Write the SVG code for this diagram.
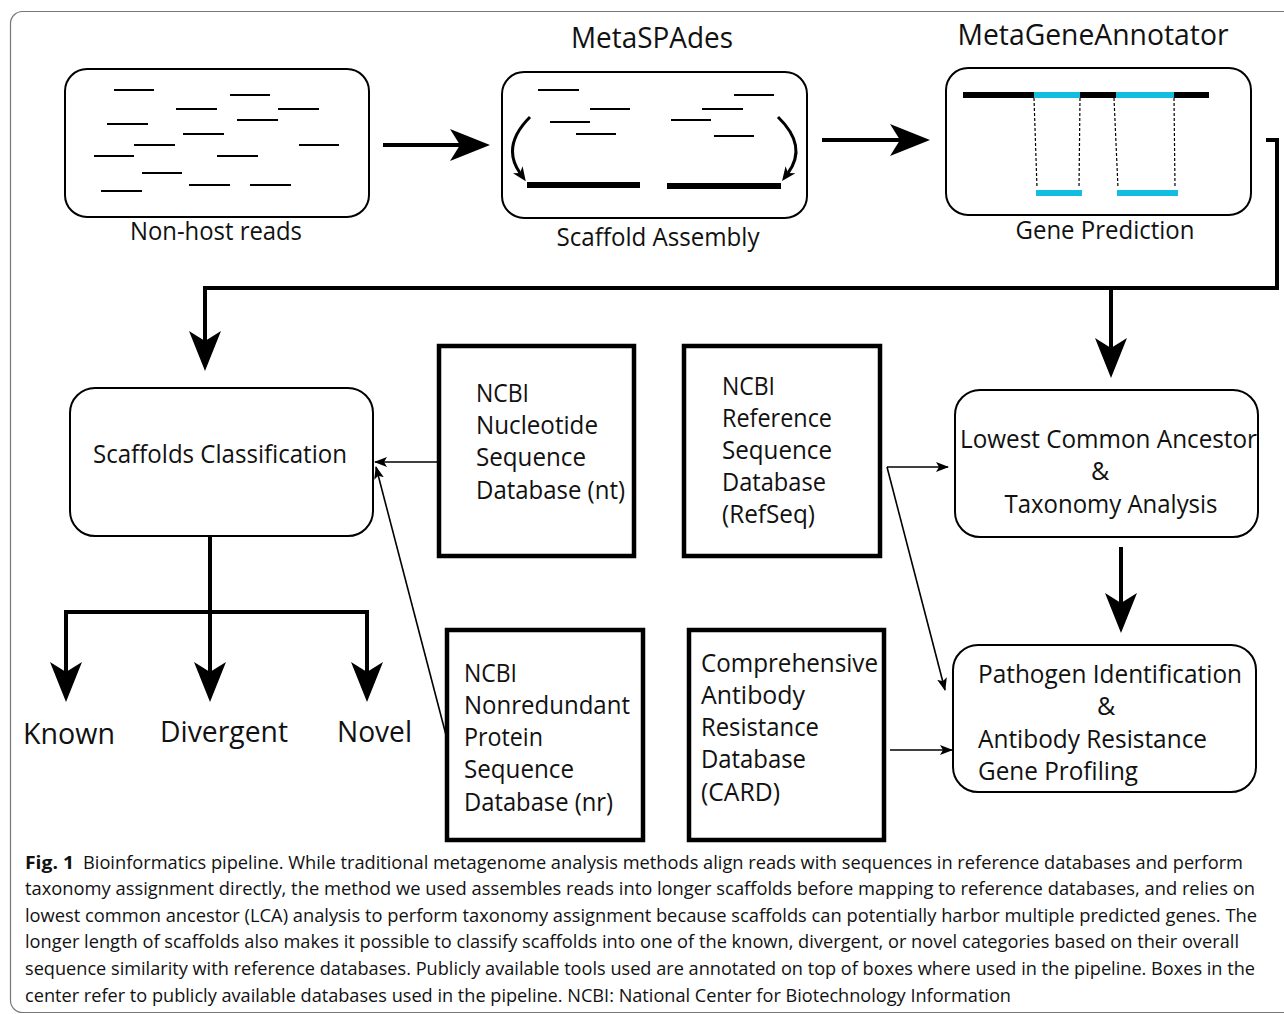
<svg xmlns="http://www.w3.org/2000/svg" width="1284" height="1014" viewBox="0 0 1284 1014">
<style>
text{font-family:"Open Sans","Liberation Sans",sans-serif;fill:#111}
.lbl{font-size:25px}
.big{font-size:29px}
.db{font-size:25px}
.cat{font-size:29px}
.cap{font-size:17.5px}
.capb{font-size:18px;font-weight:bold}
.rbox{fill:#fff;stroke:#000;stroke-width:2}
.dbox{fill:#fff;stroke:#000;stroke-width:4.5}
.read{stroke:#000;stroke-width:1.8}
.bar{stroke:#000;stroke-width:6}
.cy{stroke:#13BDE0;stroke-width:6}
.dash{stroke:#000;stroke-width:1.2;stroke-dasharray:3 2;fill:none}
.thick{stroke:#000;stroke-width:4;fill:none;stroke-linejoin:miter}
.thin{stroke:#000;stroke-width:1.6;fill:none}
.curve{stroke:#000;stroke-width:3;fill:none}
</style>
<defs>
<marker id="ah" markerUnits="userSpaceOnUse" viewBox="0 0 40 32" markerWidth="40" markerHeight="32" refX="12" refY="16" orient="auto"><path d="M0,0 L40,16 L0,32 L10,16 Z" fill="#000"/></marker>
<marker id="ta" markerUnits="userSpaceOnUse" viewBox="0 0 13 10" markerWidth="13" markerHeight="10" refX="12" refY="5" orient="auto"><path d="M0,0 L13,5 L0,10 L3,5 Z" fill="#000"/></marker>
<marker id="ca" markerUnits="userSpaceOnUse" viewBox="0 0 14 12" markerWidth="14" markerHeight="12" refX="4" refY="6" orient="auto"><path d="M0,0 L14,6 L0,12 L4,6 Z" fill="#000"/></marker>
</defs>
<rect x="0" y="0" width="1284" height="1014" fill="#fff"/>
<rect x="10.5" y="11.5" width="1300" height="1001" rx="12" fill="none" stroke="#777" stroke-width="1.2"/>

<g id="nonhost">
<rect class="rbox" x="65" y="69" width="304" height="148" rx="22"/>
<g class="read">
<line x1="114" y1="90" x2="154" y2="90"/>
<line x1="230" y1="95" x2="270" y2="95"/>
<line x1="176" y1="109" x2="217" y2="109"/>
<line x1="278" y1="109" x2="319" y2="109"/>
<line x1="107" y1="124" x2="148" y2="124"/>
<line x1="237" y1="120" x2="278" y2="120"/>
<line x1="183" y1="134" x2="224" y2="134"/>
<line x1="134" y1="145" x2="175" y2="145"/>
<line x1="299" y1="145" x2="339" y2="145"/>
<line x1="94" y1="156" x2="134" y2="156"/>
<line x1="217" y1="156" x2="258" y2="156"/>
<line x1="142" y1="173" x2="182" y2="173"/>
<line x1="101" y1="191" x2="142" y2="191"/>
<line x1="189" y1="185" x2="230" y2="185"/>
<line x1="250" y1="185" x2="291" y2="185"/>
</g>
<text class="lbl" x="216" y="240" text-anchor="middle" textLength="172" lengthAdjust="spacingAndGlyphs">Non-host reads</text>
</g>

<g id="assembly">
<text class="big" x="652" y="48" text-anchor="middle" textLength="162" lengthAdjust="spacingAndGlyphs">MetaSPAdes</text>
<rect class="rbox" x="502" y="72" width="305" height="146" rx="22"/>
<g class="read">
<line x1="538" y1="90" x2="579" y2="90"/>
<line x1="590" y1="109" x2="630" y2="109"/>
<line x1="550" y1="122" x2="590" y2="122"/>
<line x1="576" y1="134" x2="616" y2="134"/>
<line x1="734" y1="95" x2="774" y2="95"/>
<line x1="702" y1="109" x2="743" y2="109"/>
<line x1="671" y1="120" x2="711" y2="120"/>
<line x1="714" y1="136" x2="754" y2="136"/>
</g>
<line class="bar" x1="527" y1="185" x2="640" y2="185"/>
<line class="bar" x1="667" y1="186" x2="781" y2="186"/>
<path class="curve" d="M530,117 Q501,146 520,173" marker-end="url(#ca)"/>
<path class="curve" d="M778,117 Q808,146 788,173" marker-end="url(#ca)"/>
<text class="lbl" x="658" y="246" text-anchor="middle" textLength="203" lengthAdjust="spacingAndGlyphs">Scaffold Assembly</text>
</g>

<g id="geneprediction">
<text class="big" x="1093" y="45" text-anchor="middle" textLength="271" lengthAdjust="spacingAndGlyphs">MetaGeneAnnotator</text>
<rect class="rbox" x="946" y="68" width="305" height="147" rx="22"/>
<line class="bar" x1="963" y1="95" x2="1209" y2="95"/>
<line class="cy" x1="1034" y1="95" x2="1080" y2="95"/>
<line class="cy" x1="1116" y1="95" x2="1174" y2="95"/>
<line class="dash" x1="1034" y1="98" x2="1037" y2="188"/>
<line class="dash" x1="1080" y1="98" x2="1079" y2="188"/>
<line class="dash" x1="1114" y1="98" x2="1118" y2="188"/>
<line class="dash" x1="1174" y1="98" x2="1175" y2="188"/>
<line class="cy" x1="1036" y1="193" x2="1082" y2="193"/>
<line class="cy" x1="1117" y1="193" x2="1178" y2="193"/>
<text class="lbl" x="1105" y="239" text-anchor="middle" textLength="179" lengthAdjust="spacingAndGlyphs">Gene Prediction</text>
</g>

<g id="scaffolds">
<rect class="rbox" x="70" y="388" width="303" height="148" rx="25"/>
<text class="lbl" x="220" y="463" text-anchor="middle" textLength="254" lengthAdjust="spacingAndGlyphs">Scaffolds Classification</text>
</g>

<g id="nt">
<rect class="dbox" x="439" y="346" width="195" height="210"/>
<text class="db" x="476" y="402" textLength="53" lengthAdjust="spacingAndGlyphs">NCBI</text>
<text class="db" x="476" y="434" textLength="122" lengthAdjust="spacingAndGlyphs">Nucleotide</text>
<text class="db" x="476" y="466" textLength="110" lengthAdjust="spacingAndGlyphs">Sequence</text>
<text class="db" x="476" y="499" textLength="149" lengthAdjust="spacingAndGlyphs">Database (nt)</text>
</g>

<g id="refseq">
<rect class="dbox" x="684" y="346" width="196" height="210"/>
<text class="db" x="722" y="395" textLength="53" lengthAdjust="spacingAndGlyphs">NCBI</text>
<text class="db" x="722" y="427" textLength="110" lengthAdjust="spacingAndGlyphs">Reference</text>
<text class="db" x="722" y="459" textLength="110" lengthAdjust="spacingAndGlyphs">Sequence</text>
<text class="db" x="722" y="491" textLength="104" lengthAdjust="spacingAndGlyphs">Database</text>
<text class="db" x="722" y="523" textLength="93" lengthAdjust="spacingAndGlyphs">(RefSeq)</text>
</g>

<g id="nr">
<rect class="dbox" x="447" y="630" width="196" height="210"/>
<text class="db" x="464" y="682" textLength="53" lengthAdjust="spacingAndGlyphs">NCBI</text>
<text class="db" x="464" y="714" textLength="166" lengthAdjust="spacingAndGlyphs">Nonredundant</text>
<text class="db" x="464" y="746" textLength="79" lengthAdjust="spacingAndGlyphs">Protein</text>
<text class="db" x="464" y="778" textLength="110" lengthAdjust="spacingAndGlyphs">Sequence</text>
<text class="db" x="464" y="811" textLength="149" lengthAdjust="spacingAndGlyphs">Database (nr)</text>
</g>

<g id="card">
<rect class="dbox" x="689" y="630" width="195" height="210"/>
<text class="db" x="701" y="672" textLength="177" lengthAdjust="spacingAndGlyphs">Comprehensive</text>
<text class="db" x="701" y="704" textLength="104" lengthAdjust="spacingAndGlyphs">Antibody</text>
<text class="db" x="701" y="736" textLength="118" lengthAdjust="spacingAndGlyphs">Resistance</text>
<text class="db" x="701" y="768" textLength="105" lengthAdjust="spacingAndGlyphs">Database</text>
<text class="db" x="701" y="801" textLength="79" lengthAdjust="spacingAndGlyphs">(CARD)</text>
</g>

<g id="lca">
<rect class="rbox" x="955" y="390" width="303" height="147" rx="25"/>
<text class="lbl" x="960" y="448" textLength="297" lengthAdjust="spacingAndGlyphs">Lowest Common Ancestor</text>
<text class="lbl" x="1100" y="480" text-anchor="middle">&amp;</text>
<text class="lbl" x="1111" y="513" text-anchor="middle" textLength="213" lengthAdjust="spacingAndGlyphs">Taxonomy Analysis</text>
</g>

<g id="pathogen">
<rect class="rbox" x="953" y="645" width="303" height="147" rx="25"/>
<text class="lbl" x="978" y="683" textLength="264" lengthAdjust="spacingAndGlyphs">Pathogen Identification</text>
<text class="lbl" x="1106" y="715" text-anchor="middle">&amp;</text>
<text class="lbl" x="978" y="748" textLength="229" lengthAdjust="spacingAndGlyphs">Antibody Resistance</text>
<text class="lbl" x="978" y="780" textLength="160" lengthAdjust="spacingAndGlyphs">Gene Profiling</text>
</g>

<g id="known"><text class="cat" x="23" y="744" textLength="92" lengthAdjust="spacingAndGlyphs">Known</text></g>
<g id="divergent"><text class="cat" x="160" y="742" textLength="128" lengthAdjust="spacingAndGlyphs">Divergent</text></g>
<g id="novel"><text class="cat" x="337" y="742" textLength="75" lengthAdjust="spacingAndGlyphs">Novel</text></g>

<g id="connectors">
<path class="thick" d="M383,145 H462" marker-end="url(#ah)"/>
<path class="thick" d="M822,140 H902" marker-end="url(#ah)"/>
<path class="thick" d="M1266,140 H1277 V288 H205 V343" marker-end="url(#ah)"/>
<path class="thick" d="M1111,288 V350" marker-end="url(#ah)"/>
<path class="thick" d="M1121,547 V605" marker-end="url(#ah)"/>
<path class="thick" d="M210,536 V612"/>
<path class="thick" d="M64,612 H369"/>
<path class="thick" d="M66,612 V674" marker-end="url(#ah)"/>
<path class="thick" d="M210,612 V674" marker-end="url(#ah)"/>
<path class="thick" d="M367,612 V674" marker-end="url(#ah)"/>
<path class="thin" d="M438,462 H375" marker-end="url(#ta)"/>
<path class="thin" d="M446,735 L376,467" marker-end="url(#ta)"/>
<path class="thin" d="M887,467 H948" marker-end="url(#ta)"/>
<path class="thin" d="M887,467 L945,690" marker-end="url(#ta)"/>
<path class="thin" d="M890,750 H952" marker-end="url(#ta)"/>
</g>

<g id="caption">
<text class="capb" x="25" y="869" textLength="49" lengthAdjust="spacingAndGlyphs">Fig. 1</text>
<text class="cap" x="83" y="869" textLength="1160" lengthAdjust="spacingAndGlyphs">Bioinformatics pipeline. While traditional metagenome analysis methods align reads with sequences in reference databases and perform</text>
<text class="cap" x="25" y="895" textLength="1230" lengthAdjust="spacingAndGlyphs">taxonomy assignment directly, the method we used assembles reads into longer scaffolds before mapping to reference databases, and relies on</text>
<text class="cap" x="25" y="922" textLength="1232" lengthAdjust="spacingAndGlyphs">lowest common ancestor (LCA) analysis to perform taxonomy assignment because scaffolds can potentially harbor multiple predicted genes. The</text>
<text class="cap" x="25" y="948" textLength="1214" lengthAdjust="spacingAndGlyphs">longer length of scaffolds also makes it possible to classify scaffolds into one of the known, divergent, or novel categories based on their overall</text>
<text class="cap" x="25" y="975" textLength="1230" lengthAdjust="spacingAndGlyphs">sequence similarity with reference databases. Publicly available tools used are annotated on top of boxes where used in the pipeline. Boxes in the</text>
<text class="cap" x="25" y="1002" textLength="986" lengthAdjust="spacingAndGlyphs">center refer to publicly available databases used in the pipeline. NCBI: National Center for Biotechnology Information</text>
</g>
</svg>
